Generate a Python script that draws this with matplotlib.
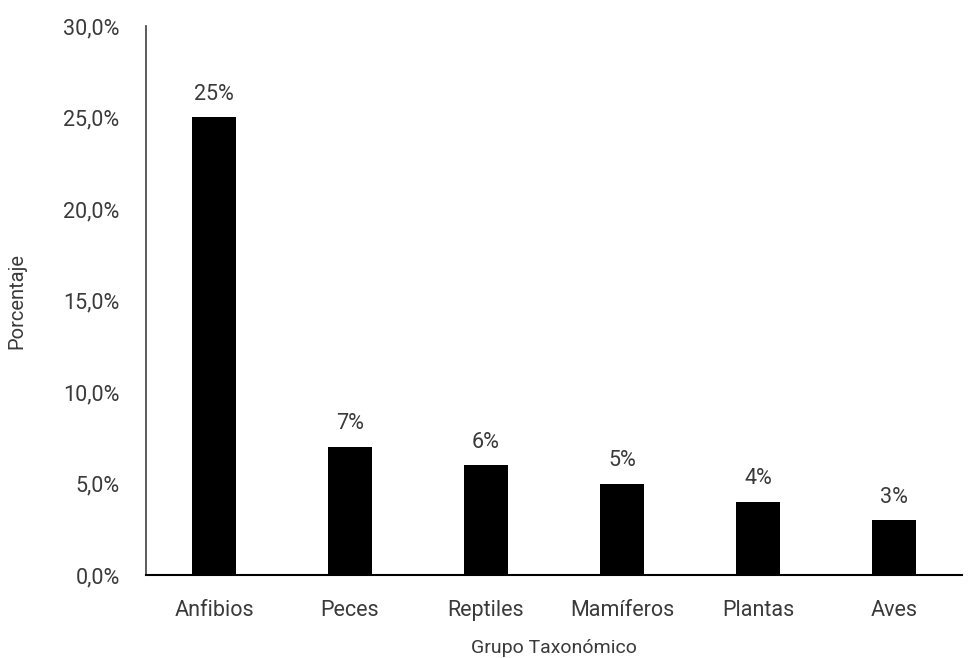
import matplotlib.pyplot as plt
from matplotlib.ticker import FuncFormatter

grupos = ['Anfibios', 'Peces', 'Reptiles', 'Mamíferos', 'Plantas', 'Aves']
porcentajes = [25, 7, 6, 5, 4, 3]

plt.rcParams['font.family'] = ['Roboto', 'DejaVu Sans']
txt = '#3a3a3a'

fig = plt.figure(figsize=(9.68, 6.58), dpi=100)
ax = fig.add_axes([0.1508, 0.1261, 0.8430, 0.8344])

bars = ax.bar(range(len(grupos)), porcentajes, width=0.32, color='black')
for b, v in zip(bars, porcentajes):
    ax.annotate('%d%%' % v, (b.get_x() + b.get_width() / 2, v),
                xytext=(0, 9), textcoords='offset points',
                ha='center', va='bottom', fontsize=15.5, color=txt)

ax.set_xlim(-0.5, len(grupos) - 0.5)
ax.set_ylim(0, 30)
ax.set_yticks(range(0, 31, 5))
ax.yaxis.set_major_formatter(FuncFormatter(lambda v, p: ('%.1f%%' % v).replace('.', ',')))
ax.set_xticks(range(len(grupos)))
ax.set_xticklabels(grupos)
ax.tick_params(length=0, labelsize=15.5, colors=txt)
ax.tick_params(axis='x', pad=18)
ax.tick_params(axis='y', pad=19)

for s in ['top', 'right']:
    ax.spines[s].set_visible(False)
ax.spines['left'].set_color('#404040')
ax.spines['left'].set_linewidth(1.2)
ax.spines['bottom'].set_color('black')
ax.spines['bottom'].set_linewidth(1.5)

ax.set_xlabel('Grupo Taxonómico', fontsize=14, color=txt)
ax.set_ylabel('Porcentaje', fontsize=14.5, color=txt)
ax.xaxis.set_label_coords(0.5, -0.133)
ax.xaxis.label.set_va('center')
ax.yaxis.set_label_coords(-0.158, 0.5)
ax.yaxis.label.set_va('center')

fig.savefig('out.png', dpi=100)
